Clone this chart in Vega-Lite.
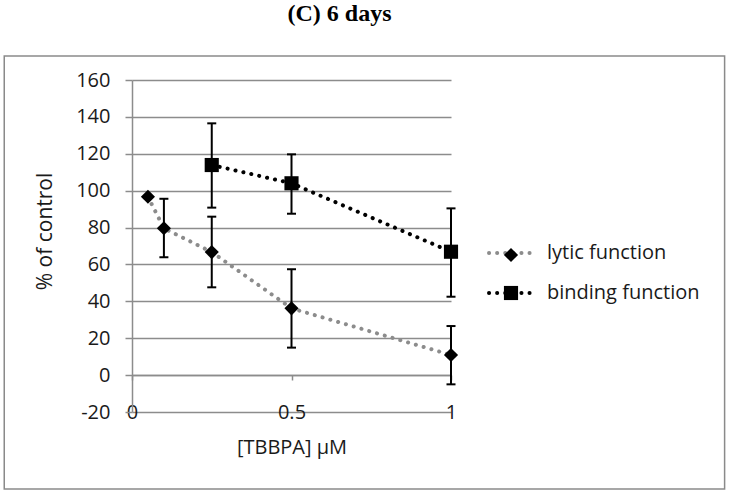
{
  "$schema": "https://vega.github.io/schema/vega-lite/v6.json",
  "width": 319,
  "height": 332,
  "autosize": {"type": "none"},
  "padding": {"left": 132, "top": 80, "right": 279, "bottom": 83},
  "background": "white",
  "title": {
    "text": "(C) 6 days",
    "font": "Liberation Serif",
    "fontSize": 24,
    "fontWeight": "bold",
    "color": "black",
    "anchor": "middle",
    "frame": "group",
    "dx": 48,
    "offset": 29
  },
  "data": {
    "values": [
      {"series": "lytic function", "marker": "lytic function", "conc": 0.05, "value": 96.7, "lo": null, "hi": null},
      {"series": "lytic function", "marker": "lytic function", "conc": 0.1, "value": 79.6, "lo": 63.9, "hi": 95.6},
      {"series": "lytic function", "marker": "lytic function", "conc": 0.25, "value": 66.7, "lo": 47.6, "hi": 85.9},
      {"series": "lytic function", "marker": "lytic function", "conc": 0.5, "value": 36.2, "lo": 14.9, "hi": 57.4},
      {"series": "lytic function", "marker": "lytic function", "conc": 1, "value": 10.9, "lo": -5.0, "hi": 26.6},
      {"series": "binding function", "marker": "binding function", "conc": 0.25, "value": 113.9, "lo": 90.8, "hi": 136.5},
      {"series": "binding function", "marker": "binding function", "conc": 0.5, "value": 104.0, "lo": 87.5, "hi": 119.7},
      {"series": "binding function", "marker": "binding function", "conc": 1, "value": 66.9, "lo": 42.5, "hi": 90.4}
    ]
  },
  "encoding": {
    "x": {
      "field": "conc",
      "type": "quantitative",
      "scale": {"domain": [0, 1], "nice": false, "zero": false},
      "axis": {
        "title": "[TBBPA] µM",
        "values": [0, 0.5, 1],
        "tickCount": 20,
        "format": "~g",
        "offset": -37,
        "grid": false,
        "domainColor": "#8c8c8c",
        "domainWidth": 1.5,
        "tickColor": "#8c8c8c",
        "tickWidth": 1.5,
        "tickSize": 5,
        "labelFont": "Open Sans",
        "labelFontSize": 20,
        "labelColor": "#1a1a1a",
        "labelPadding": 32,
        "labelBaseline": "middle",
        "labelFlush": false,
        "labelOverlap": false,
        "titleFont": "Open Sans",
        "titleFontSize": 20,
        "titleFontWeight": "normal",
        "titleColor": "#1a1a1a",
        "titleY": 72,
        "titleBaseline": "middle"
      }
    },
    "y": {
      "field": "value",
      "type": "quantitative",
      "scale": {"domain": [-20, 160], "nice": false, "zero": false},
      "axis": {
        "title": "% of control",
        "values": [-20, 0, 20, 40, 60, 80, 100, 120, 140, 160],
        "tickCount": 20,
        "labelExpr": "'' + datum.value",
        "labelOverlap": false,
        "grid": true,
        "gridColor": "#8c8c8c",
        "gridWidth": 1.5,
        "domainColor": "#8c8c8c",
        "domainWidth": 1.5,
        "tickColor": "#8c8c8c",
        "tickWidth": 1.5,
        "tickSize": 7,
        "labelFont": "Open Sans",
        "labelFontSize": 20,
        "labelColor": "#1a1a1a",
        "labelPadding": 15,
        "titleFont": "Open Sans",
        "titleFontSize": 21,
        "titleFontWeight": "normal",
        "titleColor": "#1a1a1a",
        "titleX": -87,
        "titleY": 151,
        "titleAngle": -90,
        "titleAlign": "center",
        "titleBaseline": "middle"
      }
    }
  },
  "layer": [
    {
      "data": {"values": [{"x0": -0.4005, "x1": 1.8577, "y0": 173.0, "y1": -61.8}]},
      "mark": {"type": "rect", "fill": null, "stroke": "#8a8a8a", "strokeWidth": 1.5},
      "encoding": {
        "x": {"field": "x0", "type": "quantitative", "scale": {"domain": [0, 1], "nice": false, "zero": false}, "axis": {"title": "[TBBPA] µM"}},
        "x2": {"field": "x1"},
        "y": {"field": "y0", "type": "quantitative", "scale": {"domain": [-20, 160], "nice": false, "zero": false}, "axis": {"title": "% of control"}},
        "y2": {"field": "y1"}
      }
    },
    {
      "mark": {"type": "line", "strokeWidth": 4, "strokeDash": [0.1, 8], "strokeCap": "round"},
      "encoding": {
        "color": {
          "field": "series",
          "type": "nominal",
          "scale": {"domain": ["lytic function", "binding function"], "range": ["#8c8c8c", "#000000"]},
          "legend": {
            "title": null,
            "orient": "none",
            "legendX": 355,
            "legendY": 147,
            "padding": 0,
            "symbolType": "stroke",
            "symbolSize": 2304,
            "symbolStrokeWidth": 4,
            "symbolDash": [0.1, 8],
            "labelFont": "Open Sans",
            "labelFontSize": 20,
            "labelColor": "#1a1a1a",
            "labelOffset": 8,
            "labelLimit": 400,
            "rowPadding": 4,
            "encode": {"symbols": {"update": {"strokeCap": {"value": "round"}}}}
          }
        }
      }
    },
    {
      "transform": [{"filter": "isValid(datum.lo)"}],
      "mark": {"type": "rule", "color": "black", "strokeWidth": 2},
      "encoding": {
        "y": {"field": "lo", "type": "quantitative"},
        "y2": {"field": "hi"}
      }
    },
    {
      "transform": [{"filter": "isValid(datum.lo)"}],
      "mark": {"type": "tick", "orient": "horizontal", "size": 9, "thickness": 2, "color": "black", "opacity": 1},
      "encoding": {
        "y": {"field": "lo", "type": "quantitative"}
      }
    },
    {
      "transform": [{"filter": "isValid(datum.hi)"}],
      "mark": {"type": "tick", "orient": "horizontal", "size": 9, "thickness": 2, "color": "black", "opacity": 1},
      "encoding": {
        "y": {"field": "hi", "type": "quantitative"}
      }
    },
    {
      "mark": {"type": "point", "filled": true, "color": "black", "size": 200, "opacity": 1},
      "encoding": {
        "shape": {
          "field": "marker",
          "type": "nominal",
          "sort": ["lytic function", "binding function"],
          "scale": {"range": ["diamond", "square"]},
          "legend": {
            "title": null,
            "orient": "none",
            "legendX": 369,
            "legendY": 165,
            "padding": 0,
            "symbolSize": 200,
            "symbolFillColor": "black",
            "symbolStrokeColor": "black",
            "symbolStrokeWidth": 0,
            "symbolOpacity": 1,
            "labelExpr": "''",
            "labelFontSize": 20,
            "labelOffset": 0,
            "rowPadding": 18
          }
        }
      }
    }
  ],
  "config": {
    "view": {"stroke": null},
    "font": "Open Sans"
  }
}
